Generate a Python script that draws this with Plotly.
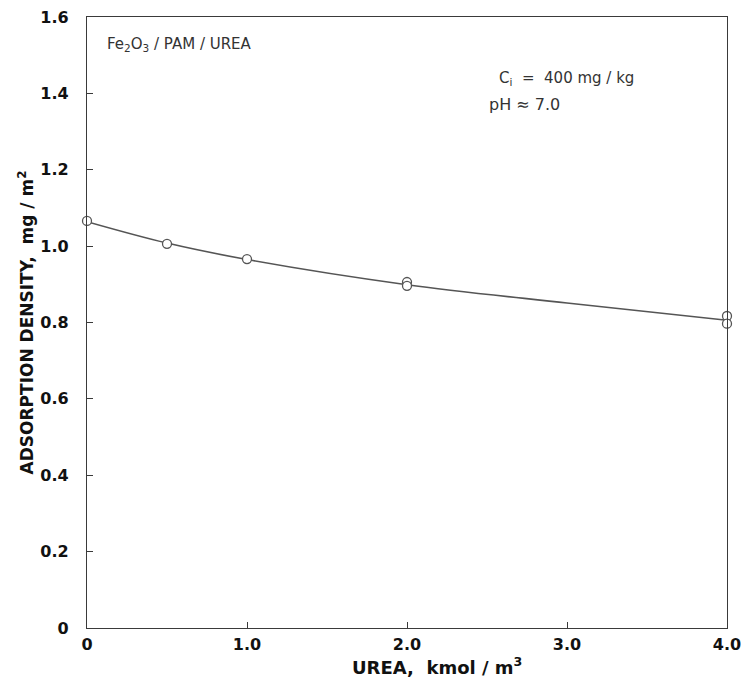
import plotly.graph_objects as go

# Data
urea = [0.0, 0.5, 1.0, 2.0, 2.0, 4.0, 4.0]
adsorption = [1.066, 1.006, 0.966, 0.906, 0.896, 0.817, 0.797]

curve_x = [0.0, 0.5, 1.0, 2.0, 3.0, 4.0]
curve_y = [1.064, 1.008, 0.965, 0.899, 0.851, 0.806]

x_ticks = [0, 1, 2, 3, 4]
x_labels = ["0", "1.0", "2.0", "3.0", "4.0"]
y_ticks = [0, 0.2, 0.4, 0.6, 0.8, 1.0, 1.2, 1.4, 1.6]
y_labels = ["0", "0.2", "0.4", "0.6", "0.8", "1.0", "1.2", "1.4", "1.6"]

ink = "#3a3a3a"
fig = go.Figure()
fig.add_trace(go.Scatter(x=curve_x, y=curve_y, mode="lines", line_shape="spline",
                         line=dict(color="#555555", width=1.6), hoverinfo="skip",
                         showlegend=False, cliponaxis=False))
fig.add_trace(go.Scatter(x=urea, y=adsorption, mode="markers",
                         marker=dict(symbol="circle", size=9, color="white",
                                     line=dict(width=1.3, color="#555555")),
                         showlegend=False, cliponaxis=False))

tick_font = dict(family="DejaVu Sans", size=16, color="#111111")
title_font = dict(family="DejaVu Sans", size=17, color="#111111")
fig.update_layout(
    width=742, height=684,
    margin=dict(l=87, r=15, t=17, b=56),
    paper_bgcolor="white", plot_bgcolor="white",
    xaxis=dict(range=[0, 4], tickvals=x_ticks, ticktext=["<b>%s</b>" % t for t in x_labels],
               ticks="inside", ticklen=6, tickcolor=ink, showline=True, linecolor=ink,
               linewidth=1.3, mirror=True, showgrid=False, zeroline=False,
               automargin=False, ticklabelstandoff=2, ticklabeloverflow="allow",
               tickfont=tick_font),
    yaxis=dict(range=[0, 1.6], tickvals=y_ticks, ticktext=["<b>%s</b>" % t for t in y_labels],
               ticks="inside", ticklen=6, tickcolor=ink, showline=True, linecolor=ink,
               linewidth=1.3, mirror=True, showgrid=False, zeroline=False,
               automargin=False, ticklabelstandoff=14, ticklabeloverflow="allow",
               tickfont=tick_font,
               title=dict(text="<b>ADSORPTION DENSITY,  mg / m<sup>2</sup></b>", standoff=2,
                          font=title_font)),
    annotations=[
        dict(text="<b>UREA,  kmol / m<sup>3</sup></b>", x=0.547, y=-0.063,
             xref="paper", yref="paper", xanchor="center", yanchor="middle", showarrow=False,
             font=dict(family="DejaVu Sans", size=18, color="#111111")),
        dict(text="Fe<sub>2</sub>O<sub>3</sub> / PAM / UREA", x=0.11, y=1.529,
             xref="x", yref="y", xanchor="left", yanchor="middle", showarrow=False,
             font=dict(family="DejaVu Sans", size=15, color="#333333")),
        dict(text="C<sub>i</sub>  =  400 mg / kg", x=2.56, y=1.44,
             xref="x", yref="y", xanchor="left", yanchor="middle", showarrow=False,
             font=dict(family="DejaVu Sans", size=15, color="#333333")),
        dict(text="pH \u2248 7.0", x=2.5, y=1.372,
             xref="x", yref="y", xanchor="left", yanchor="middle", showarrow=False,
             font=dict(family="DejaVu Sans", size=16, color="#333333")),
    ],
)
fig.write_html("out.html")
